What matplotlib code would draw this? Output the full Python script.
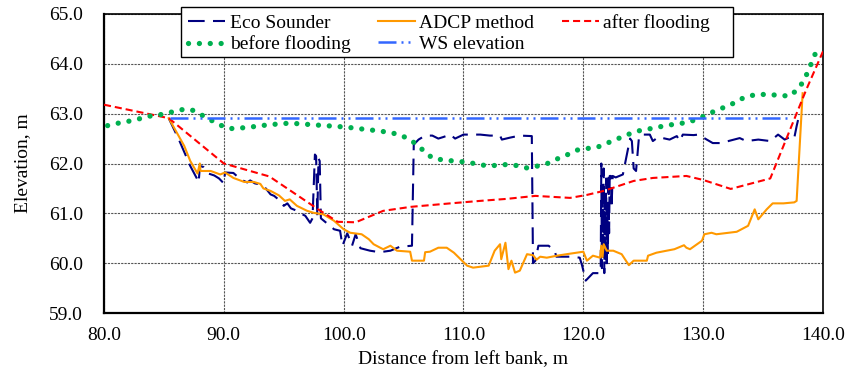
import matplotlib
matplotlib.use("Agg")
import matplotlib.pyplot as plt
from matplotlib.patches import Rectangle

plt.rcParams['font.family'] = ['Liberation Serif', 'DejaVu Serif']

# ---------------- data ----------------
eco_x = [85.4, 86.25, 87.2, 87.75, 87.9, 88.0, 88.3, 88.7, 89.2, 89.6, 90.0, 90.1, 90.8, 91.4,
         91.95, 92.2, 92.6, 93.05, 93.5, 93.9, 94.2, 94.7, 95.0, 95.3, 95.6, 96.1, 96.4, 96.8,
         97.2, 97.4, 97.6, 97.7, 97.8, 97.9, 98.0, 98.1, 98.6, 99.2, 99.7, 99.9, 100.3, 100.7,
         101.0, 101.4, 102.2, 103.0, 103.9, 104.7, 105.7, 105.85, 106.25, 106.8, 107.4, 107.9,
         108.3, 108.9, 109.3, 110.0, 111.4, 112.2, 113.05, 113.2, 113.9, 114.7, 115.7, 115.8,
         116.0, 116.25, 117.1, 117.6, 117.75, 119.0, 119.7, 119.9, 120.2, 120.8, 121.4,
         121.45, 121.5, 121.55, 121.6, 121.65, 121.7, 121.75, 121.8, 121.85, 121.9, 121.95,
         122.0, 122.05, 122.1, 122.15, 122.2, 122.3, 122.35, 122.45, 122.7, 123.3, 123.9,
         124.05, 124.2, 124.4, 124.65, 125.0, 125.55, 125.8, 126.25, 127.2, 127.8, 128.05,
         128.3, 129.2, 129.6, 130.3, 130.8, 131.4, 132.1, 133.05, 133.6, 134.6, 135.6, 136.25,
         136.8, 137.4, 137.6, 137.8, 138.05]
eco_y = [62.91, 62.48, 61.95, 61.7, 61.62, 61.95, 61.93, 61.8, 61.76, 61.7, 61.6, 61.82, 61.81, 61.68,
         61.62, 61.66, 61.6, 61.58, 61.5, 61.38, 61.35, 61.25, 61.15, 61.2, 61.1, 61.05, 61.0, 60.95,
         60.81, 60.9, 62.18, 62.15, 60.95, 62.1, 62.05, 60.9, 60.8, 60.68, 60.65, 60.35, 60.6, 60.35,
         60.58, 60.3, 60.25, 60.22, 60.25, 60.33, 60.35, 62.38, 62.48, 62.56, 62.56, 62.5,
         62.53, 62.58, 62.5, 62.58, 62.58, 62.56, 62.56, 62.48, 62.52, 62.56, 62.55, 60.0,
         60.05, 60.35, 60.35, 60.25, 60.13, 60.13, 60.11, 59.95, 59.65, 59.8, 59.8,
         59.85, 62.0, 59.9, 61.6, 60.1, 61.9, 59.8, 61.3, 60.3, 61.7, 59.9,
         61.0, 60.2, 61.8, 60.6, 61.75, 61.75, 61.1, 61.75, 61.72, 61.78, 62.5,
         62.45, 61.9, 61.85, 62.55, 62.58, 62.58, 62.45, 62.53, 62.48, 62.55, 62.45,
         62.58, 62.57, 62.58, 62.48, 62.41, 62.41, 62.45, 62.51, 62.45, 62.48, 62.45, 62.58,
         62.48, 62.55, 62.51, 62.75, 63.01]

adcp_x = [85.4, 86.7, 87.2, 87.8, 88.0, 88.05, 88.9, 89.7, 90.1, 90.8, 91.7, 92.5, 93.05, 93.3,
          93.9, 94.6, 95.1, 95.5, 96.1, 96.95, 97.5, 98.3, 99.2, 100.0, 100.55, 101.5, 102.1,
          102.5, 103.05, 103.3, 103.9, 104.45, 105.55, 105.7, 106.7, 106.8, 107.2, 107.9, 108.6,
          109.2, 110.3, 110.8, 112.1, 112.6, 113.05, 113.15, 113.5, 113.75, 114.0, 114.3, 114.7,
          115.3, 115.8, 116.1, 116.4, 116.95, 117.8, 118.6, 120.0, 120.3, 120.8, 121.4, 121.5,
          121.6, 121.7, 121.95, 122.5, 123.2, 123.8, 124.2, 125.3, 125.4, 126.1, 126.95, 127.6,
          128.4, 128.6, 128.9, 129.9, 130.1, 130.7, 131.1, 132.8, 133.75, 134.3, 134.6, 135.3,
          135.8, 136.7, 137.6, 137.8, 138.3]
adcp_y = [62.91, 62.35, 62.05, 61.8, 62.0, 61.85, 61.85, 61.78, 61.82, 61.71, 61.63, 61.63, 61.59, 61.5,
          61.45, 61.36, 61.25, 61.28, 61.15, 61.05, 61.01, 60.98, 60.85, 60.68, 60.61, 60.58, 60.48,
          60.38, 60.31, 60.28, 60.35, 60.25, 60.23, 60.05, 60.05, 60.22, 60.23, 60.31, 60.31,
          60.21, 59.95, 59.91, 59.95, 60.25, 60.38, 60.08, 60.41, 59.88, 60.05, 59.81, 59.85,
          60.18, 60.16, 60.07, 60.13, 60.11, 60.15, 60.18, 60.23, 60.05, 60.15, 60.11, 60.35,
          60.12, 60.38, 60.25, 60.25, 60.18, 59.96, 60.05, 60.05, 60.15, 60.21, 60.25, 60.28,
          60.36, 60.31, 60.28, 60.45, 60.58, 60.61, 60.58, 60.63, 60.75, 61.08, 60.88, 61.08,
          61.2, 61.2, 61.22, 61.25, 63.41]

after_x = [80.0, 85.4, 90.0, 93.8, 98.0, 99.5, 101.0, 103.3, 105.6, 108.9, 111.4, 113.6, 116.0,
           118.9, 120.3, 121.7, 124.2, 125.8, 128.6, 130.0, 132.3, 135.6, 138.6, 140.0]
after_y = [63.18, 62.91, 62.0, 61.74, 61.06, 60.83, 60.82, 61.05, 61.13, 61.2, 61.25, 61.29, 61.35,
           61.31, 61.37, 61.45, 61.65, 61.71, 61.75, 61.67, 61.49, 61.7, 63.48, 64.25]

before_x = [80.3, 81.2, 82.1, 83.0, 83.8, 84.7, 85.6, 86.5, 87.3, 88.1, 89.6, 90.5, 91.3, 92.2,
            93.1, 93.95, 94.8, 95.7, 96.5, 97.45, 98.3, 99.2, 100.1, 101.0, 101.9, 102.8, 103.6,
            104.5, 105.4, 106.1, 106.7, 107.4, 108.3, 109.2, 110.1, 110.9, 111.8, 112.7, 113.6,
            114.4, 115.3, 116.2, 117.0, 117.8, 118.7, 119.5, 120.3, 121.2, 122.0, 122.8, 123.7,
            124.5, 125.4, 126.25, 127.1, 128.0, 128.8, 129.7, 130.5, 131.3, 132.2, 132.9, 133.75,
            134.6, 135.5, 136.4, 137.2, 137.9, 138.4, 138.75, 139.1, 139.45]
before_y = [62.76, 62.81, 62.85, 62.9, 62.95, 62.98, 63.03, 63.08, 63.08, 62.98, 62.78, 62.7, 62.71, 62.73,
            62.76, 62.78, 62.8, 62.81, 62.79, 62.78, 62.76, 62.75, 62.73, 62.71, 62.68, 62.66, 62.63,
            62.59, 62.5, 62.38, 62.25, 62.11, 62.07, 62.05, 62.03, 62.0, 61.96, 61.96, 61.98,
            61.96, 61.91, 61.95, 62.0, 62.09, 62.18, 62.27, 62.3, 62.33, 62.41, 62.49, 62.58,
            62.65, 62.69, 62.73, 62.77, 62.8, 62.83, 62.91, 63.0, 63.09, 63.16, 63.27, 63.35,
            63.39, 63.38, 63.37, 63.35, 63.49, 63.66, 63.85, 64.05, 64.26]

ws_x = [85.5, 137.4]
ws_y = [62.91, 62.91]

x_ticks = [80, 90, 100, 110, 120, 130, 140]
y_ticks = [59, 60, 61, 62, 63, 64, 65]

# ---------------- figure ----------------
W, H = 848, 383
fig = plt.figure(figsize=(W / 100, H / 100), dpi=100)
ax = fig.add_axes([104 / W, 1 - 313 / H, (823 - 104) / W, (313 - 14) / H])

l_eco, = ax.plot(eco_x, eco_y, color='#000080', lw=1.5, dashes=(8, 4), label='Eco Sounder', zorder=3)
l_adcp, = ax.plot(adcp_x, adcp_y, color='#FF9900', lw=1.5, label='ADCP method', zorder=4)
l_after, = ax.plot(after_x, after_y, color='#FF0000', lw=1.5, dashes=(3.4, 1.9), label='after flooding', zorder=5)
l_before, = ax.plot(before_x, before_y, color='#00B050', lw=3.8, linestyle=(0, (0.01, 2.05)),
                    dash_capstyle='round', label='before flooding', zorder=6)
l_ws, = ax.plot(ws_x, ws_y, color='#3366FF', lw=1.8, dashes=(7.2, 2, 0.8, 2, 0.8, 2),
                label='WS elevation', zorder=7)

ax.set_xlim(80, 140)
ax.set_ylim(59, 65)
ax.set_xticks(x_ticks)
ax.set_yticks(y_ticks)
ax.set_xticklabels([f"{v:.1f}" for v in x_ticks])
ax.set_yticklabels([f"{v:.1f}" for v in y_ticks])
ax.tick_params(axis='both', length=0, labelsize=14, colors='black')
ax.tick_params(axis='x', pad=10)
ax.tick_params(axis='y', pad=15)

ax.grid(True, color='#555555', lw=0.8, linestyle=(0, (2, 1)))
ax.set_axisbelow(True)
for s in ax.spines.values():
    s.set_color('black')
    s.set_linewidth(1.2)
ax.spines['left'].set_linewidth(1.6)
ax.spines['bottom'].set_linewidth(1.6)

ax.set_xlabel('Distance from left bank, m', fontsize=14)
ax.set_ylabel('Elevation, m', fontsize=14)
ax.xaxis.set_label_coords(0.5, -0.128)
ax.yaxis.set_label_coords(-0.102, 0.5)

# legend frame (Excel-like box)
frame = Rectangle((181 / W, 1 - 57 / H), (733 - 181) / W, 50 / H, transform=fig.transFigure,
                  facecolor='white', edgecolor='black', lw=1.0, zorder=10)
fig.add_artist(frame)

handles = [l_eco, l_before, l_adcp, l_ws, l_after]
leg = fig.legend(handles=handles, labels=[h.get_label() for h in handles], ncol=3,
                 loc='upper left', bbox_to_anchor=(181 / W, 1 - 7 / H),
                 bbox_transform=fig.transFigure, borderaxespad=0,
                 fontsize=14, frameon=False,
                 handlelength=1.9, handletextpad=0.25,
                 columnspacing=1.4, labelspacing=0.2, borderpad=0.35)
leg.set_zorder(20)

fig.savefig('out.png', dpi=100, facecolor='white')
